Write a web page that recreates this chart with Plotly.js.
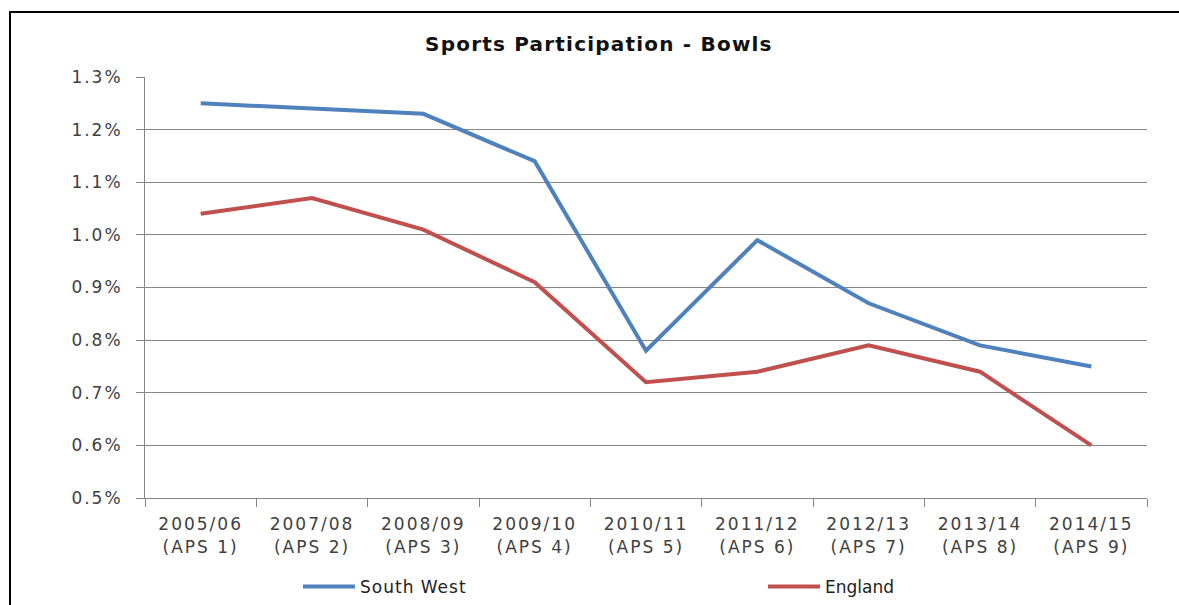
<!DOCTYPE html>
<html>
<head>
<meta charset="utf-8">
<script src="https://cdn.plot.ly/plotly-3.0.1.min.js"></script>
<style>
  html, body { margin: 0; padding: 0; background: #fff; }
  #wrap { position: relative; width: 1179px; height: 605px; overflow: hidden; }
  #chart { position: absolute; left: 0; top: 0; width: 1179px; height: 605px; }
  #frame { position: absolute; left: 9px; top: 11px; width: 1200px; height: 700px;
           border-top: 2px solid #000; border-left: 2px solid #000; pointer-events: none; }
  .xtick text, .ytick text { letter-spacing: 2px !important; }
  .legendtext { letter-spacing: 1px !important; }
  .gtitle { letter-spacing: 1.2px !important; }
</style>
</head>
<body>
<div id="wrap">
  <div id="chart"></div>
  <div id="frame"></div>
</div>
<script>
var categories = [
  "2005/06<br>(APS 1)", "2007/08<br>(APS 2)", "2008/09<br>(APS 3)",
  "2009/10<br>(APS 4)", "2010/11<br>(APS 5)", "2011/12<br>(APS 6)",
  "2012/13<br>(APS 7)", "2013/14<br>(APS 8)", "2014/15<br>(APS 9)"
];
var southWest = [1.25, 1.24, 1.23, 1.14, 0.78, 0.99, 0.87, 0.79, 0.75];
var england   = [1.04, 1.07, 1.01, 0.91, 0.72, 0.74, 0.79, 0.74, 0.60];
var yTickVals = [0.5, 0.6, 0.7, 0.8, 0.9, 1.0, 1.1, 1.2, 1.3];
var yTickText = ["0.5%", "0.6%", "0.7%", "0.8%", "0.9%", "1.0%", "1.1%", "1.2%", "1.3%"];

var FONT = "DejaVu Sans, Verdana, sans-serif";

var traces = [
  { type: "scatter", mode: "lines", name: "South West", x: categories, y: southWest,
    line: { color: "#4F81BD", width: 4 }, hoverinfo: "skip", legend: "legend" },
  { type: "scatter", mode: "lines", name: "England", x: categories, y: england,
    line: { color: "#C0504D", width: 4 }, hoverinfo: "skip", legend: "legend2" }
];

var legendBase = {
  orientation: "h", xanchor: "left", yanchor: "middle",
  xref: "container", yref: "container", itemwidth: 52,
  font: { family: FONT, size: 17, color: "#222" }, bgcolor: "rgba(0,0,0,0)"
};

var layout = {
  width: 1179, height: 605,
  margin: { l: 145, r: 32, t: 77, b: 107 },
  paper_bgcolor: "#fff", plot_bgcolor: "#fff",
  font: { family: FONT, size: 17, color: "#404040" },
  title: { text: "Sports Participation - Bowls", font: { family: FONT, size: 20, color: "#111", weight: "bold" },
           x: 0.508, xref: "container", xanchor: "center", y: 1 - 44/605, yref: "container", yanchor: "middle" },
  showlegend: true,
  legend: Object.assign({}, legendBase, { x: 298/1179, y: 1 - 587/605 }),
  legend2: Object.assign({}, legendBase, { x: 763/1179, y: 1 - 587/605 }),
  xaxis: {
    type: "category", tickmode: "array", tickvals: categories, ticktext: categories,
    tickson: "boundaries", ticks: "outside", ticklen: 8, tickcolor: "#868686", tickwidth: 1,
    showline: true, linecolor: "#868686", linewidth: 1, showgrid: false, zeroline: false,
    tickfont: { family: FONT, size: 17, color: "#404040" }, fixedrange: true,
    range: [-0.5, 8.5], ticklabelstandoff: 11, automargin: false
  },
  yaxis: {
    range: [0.5, 1.3], tickmode: "array", tickvals: yTickVals, ticktext: yTickText,
    ticks: "outside", ticklen: 8, tickcolor: "#868686", tickwidth: 1,
    showline: true, linecolor: "#868686", linewidth: 1,
    showgrid: true, gridcolor: "#868686", gridwidth: 1, zeroline: false,
    tickfont: { family: FONT, size: 17, color: "#404040" }, fixedrange: true,
    ticklabelstandoff: 10, automargin: false
  }
};

Plotly.newPlot("chart", traces, layout, { displayModeBar: false, staticPlot: true });
</script>
</body>
</html>
